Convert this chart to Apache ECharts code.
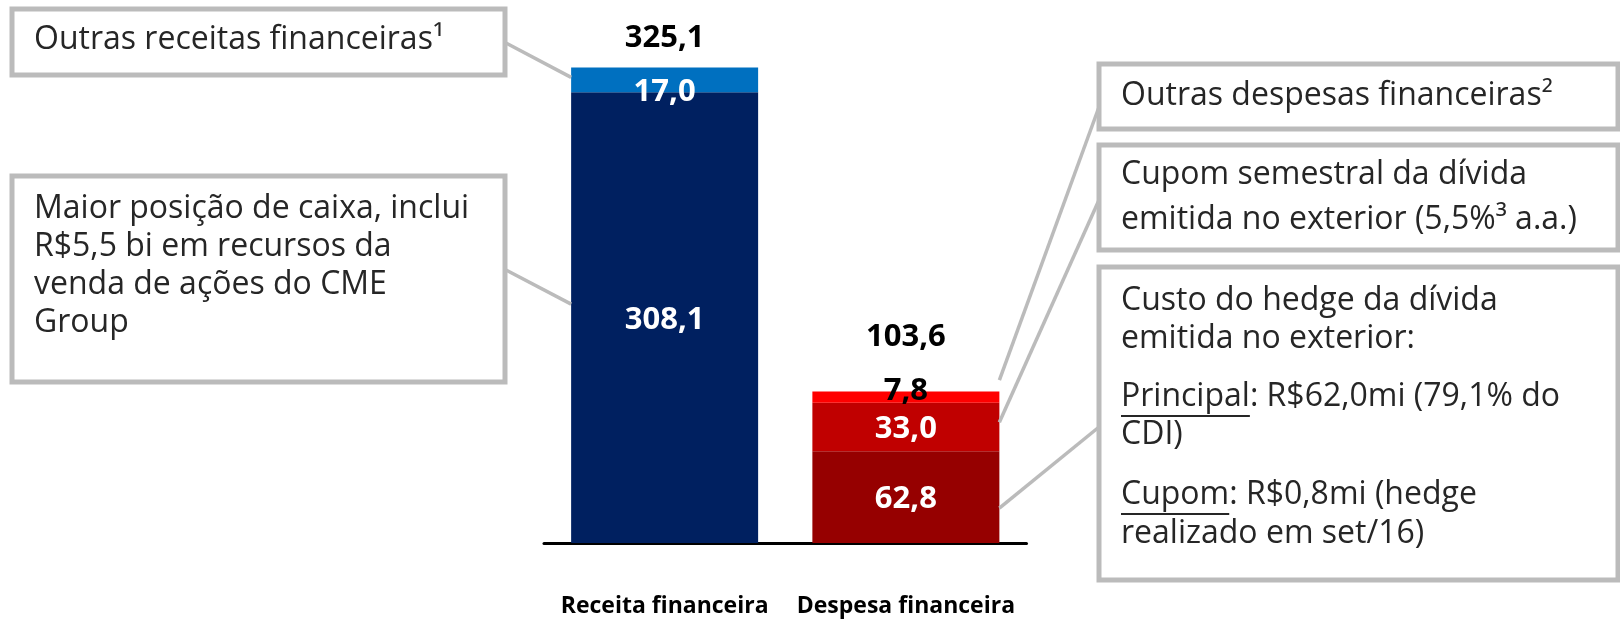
<!DOCTYPE html>
<html>
<head>
<meta charset="utf-8">
<script src="https://cdn.jsdelivr.net/npm/echarts@6/dist/echarts.min.js"></script>
<style>
    html, body { margin: 0; padding: 0; background: #fff; }
    #chart { width: 1620px; height: 620px; }
</style>
</head>
<body>
<div id="chart"></div>
<script>
// dados (R$ milhões)
var categorias = ['Receita financeira', 'Despesa financeira'];
var receitaCaixa = [308.1, '-'];
var receitaOutras = [17.0, '-'];
var despesaHedge = ['-', 62.8];
var despesaCupom = ['-', 33.0];
var despesaOutras = ['-', 7.8];
var totais = [325.1, 103.6];

var FONTE = '"Open Sans", "Noto Sans", sans-serif';
var CINZA = '#BBBBBB';
var TEXTO = '#262626';
var BAR_W = 187;

function fmt(v) {
    return v.toFixed(1).replace('.', ',');
}

function rotulo(cor, offset) {
    return {
        show: true,
        position: 'inside',
        offset: offset,
        color: cor,
        fontFamily: FONTE,
        fontWeight: 'bold',
        fontSize: 31,
        formatter: function (p) { return fmt(p.value); }
    };
}

var myChart = echarts.init(document.getElementById('chart'));

var option = {
    animation: false,
    backgroundColor: '#fff',
    grid: { left: 544, right: 593.5, top: 31, bottom: 77 },
    xAxis: {
        type: 'category',
        data: categorias,
        axisTick: { show: false },
        axisLine: { lineStyle: { color: '#000', width: 3 } },
        axisLabel: {
            interval: 0,
            margin: 52,
            color: '#000',
            fontFamily: FONTE,
            fontWeight: 'bold',
            fontSize: 23
        }
    },
    yAxis: { type: 'value', min: 0, max: 350, show: false },
    series: [
        {
            type: 'bar', stack: 'a', data: receitaCaixa, barWidth: BAR_W, barGap: '-100%',
            itemStyle: { color: '#002060' }, label: rotulo('#fff', [0, 3])
        },
        {
            type: 'bar', stack: 'a', data: receitaOutras, barWidth: BAR_W, barGap: '-100%',
            itemStyle: { color: '#0070C0' }, label: rotulo('#fff', [0, 12])
        },
        {
            type: 'bar', stack: 'a', data: despesaHedge, barWidth: BAR_W, barGap: '-100%',
            itemStyle: { color: '#960000' }, label: rotulo('#fff', [0, 2])
        },
        {
            type: 'bar', stack: 'a', data: despesaCupom, barWidth: BAR_W, barGap: '-100%',
            itemStyle: { color: '#C00000' }, label: rotulo('#fff', [0, 2])
        },
        {
            type: 'bar', stack: 'a', data: despesaOutras, barWidth: BAR_W, barGap: '-100%',
            itemStyle: { color: '#FF0000' }, label: rotulo('#000', [0, -6])
        },
        {
            type: 'bar', data: totais.map(function (v, i) {
                return { value: v, label: { distance: i === 0 ? 14 : 39 } };
            }),
            barWidth: BAR_W, barGap: '-100%', z: 1,
            itemStyle: { color: 'rgba(0,0,0,0)' },
            label: {
                show: true, position: 'top', color: '#000',
                fontFamily: FONTE, fontWeight: 'bold', fontSize: 31,
                formatter: function (p) { return fmt(p.value); }
            }
        }
    ]
};
myChart.setOption(option);

// medir largura de texto (para sublinhado)
var ctx = document.createElement('canvas').getContext('2d');
function largura(txt, size) {
    ctx.font = size + 'px ' + FONTE;
    return ctx.measureText(txt).width;
}

// ponto na borda da barra
function ponto(i, valor, lado) {
    var p = myChart.convertToPixel({ gridIndex: 0 }, [i, valor]);
    return [p[0] + lado * BAR_W / 2, p[1]];
}

function caixa(x, y, w, h) {
    return {
        type: 'rect', shape: { x: x, y: y, width: w, height: h },
        style: { fill: '#fff', stroke: CINZA, lineWidth: 5 }, z: 10
    };
}
function texto(x, y, t) {
    return {
        type: 'text', x: x, y: y, z: 11,
        style: {
            text: t, fill: TEXTO, fontFamily: FONTE, fontSize: 32,
            verticalAlign: 'middle', textVerticalAlign: 'middle'
        }
    };
}
function linha(a, b) {
    return {
        type: 'line', z: 5,
        shape: { x1: a[0], y1: a[1], x2: b[0], y2: b[1] },
        style: { stroke: CINZA, lineWidth: 3.5 }
    };
}

var elementos = [];
// conectores
elementos.push(linha([506, 43], ponto(0, 308.1 + 17.0 * 0.6, -1)));
elementos.push(linha([506, 270], ponto(0, 308.1 * 0.53, -1)));
elementos.push(linha([1099, 107], ponto(1, totais[1] + 7.8, 1)));
elementos.push(linha([1099, 200], ponto(1, 62.8 + 33.0 * 0.6, 1)));
elementos.push(linha([1099, 427], ponto(1, 62.8 * 0.38, 1)));

// caixas da esquerda
elementos.push(caixa(12, 9, 493, 66));
elementos.push(texto(34, 40, 'Outras receitas financeiras¹'));
elementos.push(caixa(12, 176, 493, 206));
['Maior posição de caixa, inclui', 'R$5,5 bi em recursos da',
 'venda de ações do CME', 'Group'].forEach(function (t, k) {
    elementos.push(texto(34, 209 + k * 38, t));
});

// caixas da direita
elementos.push(caixa(1099, 64, 519, 65));
elementos.push(texto(1121, 96, 'Outras despesas financeiras²'));
elementos.push(caixa(1099, 145, 519, 105));
elementos.push(texto(1121, 175, 'Cupom semestral da dívida'));
elementos.push(texto(1121, 220, 'emitida no exterior (5,5%³ a.a.)'));
elementos.push(caixa(1099, 267, 519, 313));
var linhasC = [
    ['Custo do hedge da dívida', 301],
    ['emitida no exterior:', 339],
    ['Principal: R$62,0mi (79,1% do', 397],
    ['CDI)', 435],
    ['Cupom: R$0,8mi (hedge', 495],
    ['realizado em set/16)', 534]
];
linhasC.forEach(function (l) {
    elementos.push(texto(1121, l[1], l[0]));
});
// sublinhados
[['Principal', 397], ['Cupom', 495]].forEach(function (u) {
    var w = largura(u[0], 32);
    elementos.push({
        type: 'line', z: 12,
        shape: { x1: 1121, y1: u[1] + 19, x2: 1121 + w, y2: u[1] + 19 },
        style: { stroke: TEXTO, lineWidth: 2 }
    });
});

myChart.setOption({ graphic: { elements: elementos } });
</script>
</body>
</html>
